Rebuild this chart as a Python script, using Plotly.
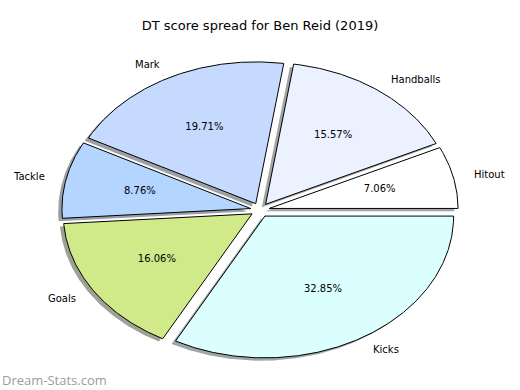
import numpy as np
import plotly.graph_objects as go

# ---- data ----
labels = ["Hitout", "Handballs", "Mark", "Tackle", "Goals", "Kicks"]
values = [29, 64, 81, 36, 66, 135]
colors = ["#ffffff", "#ebf1ff", "#c6d9ff", "#b3d5ff", "#d0ea8a", "#dbffff"]
explode = [0.05, 0.05, 0.05, 0.05, 0.05, 0.05]
title_text = "DT score spread for Ben Reid (2019)"
watermark = "Dream-Stats.com"

# ---- geometry helpers (pie drawn on unit radius, start at 0 deg, counterclockwise) ----
total = float(sum(values))
fracs = [v / total for v in values]
LABEL_DIST = 1.1
PCT_DIST = 0.6
SHADOW_OFF = (-0.02, -0.02)


def hex_to_rgb(h):
    h = h.lstrip("#")
    return tuple(int(h[i:i + 2], 16) for i in (0, 2, 4))


wedges = []
theta1 = 0.0
for lab, f, col, ex in zip(labels, fracs, colors, explode):
    theta2 = theta1 + 360.0 * f
    mid = np.deg2rad((theta1 + theta2) / 2.0)
    cx, cy = ex * np.cos(mid), ex * np.sin(mid)
    n = max(int(abs(theta2 - theta1) * 2), 8)
    t = np.deg2rad(np.linspace(theta1, theta2, n))
    xs = np.concatenate([[cx], cx + np.cos(t), [cx]])
    ys = np.concatenate([[cy], cy + np.sin(t), [cy]])
    wedges.append(dict(label=lab, frac=f, color=col, xs=xs, ys=ys, cx=cx, cy=cy, mid=mid))
    theta1 = theta2

fig = go.Figure()

# shadows (below all wedges)
for w in wedges:
    r, g, b = hex_to_rgb(w["color"])
    fig.add_trace(go.Scatter(
        x=w["xs"] + SHADOW_OFF[0], y=w["ys"] + SHADOW_OFF[1],
        mode="lines", fill="toself",
        fillcolor=f"rgba({int(r*0.3)},{int(g*0.3)},{int(b*0.3)},0.5)",
        line=dict(width=0, color="rgba(0,0,0,0)"),
        hoverinfo="skip", showlegend=False,
    ))

# wedges
for w in wedges:
    fig.add_trace(go.Scatter(
        x=w["xs"], y=w["ys"], mode="lines", fill="toself",
        fillcolor=w["color"], line=dict(color="black", width=1),
        name=w["label"], hoverinfo="skip", showlegend=False,
    ))

# percentage labels
fig.add_trace(go.Scatter(
    x=[w["cx"] + PCT_DIST * np.cos(w["mid"]) for w in wedges],
    y=[w["cy"] + PCT_DIST * np.sin(w["mid"]) for w in wedges],
    mode="text",
    text=["%.2f%%" % (100 * w["frac"]) for w in wedges],
    textposition="middle center",
    textfont=dict(family="DejaVu Sans", size=10, color="black"),
    hoverinfo="skip", showlegend=False,
))

# outer category labels
for w in wedges:
    lx = w["cx"] + LABEL_DIST * np.cos(w["mid"])
    ly = w["cy"] + LABEL_DIST * np.sin(w["mid"])
    fig.add_annotation(
        x=lx, y=ly, xref="x", yref="y", text=w["label"], showarrow=False,
        xanchor="left" if lx > 0 else "right", yanchor="middle",
        font=dict(family="DejaVu Sans", size=10, color="black"),
    )

fig.add_annotation(
    x=0, y=1 - 380 / 390, xref="paper", yref="paper", text=watermark,
    showarrow=False, xanchor="left", yanchor="middle",
    font=dict(family="Open Sans", size=13, color="#9c9c9c"),
)

fig.update_layout(
    width=520, height=390,
    margin=dict(l=0, r=0, t=0, b=0),
    paper_bgcolor="white", plot_bgcolor="white",
    title=dict(text=title_text, x=0.5, xanchor="center", y=1 - 25 / 390, yanchor="middle",
               font=dict(family="DejaVu Sans", size=13, color="black")),
    xaxis=dict(range=[-1.3771, 1.3771], visible=False, fixedrange=True),
    yaxis=dict(range=[-1.2694, 1.4810], visible=False, fixedrange=True),
    showlegend=False,
    hovermode=False,
)

fig.write_html(
    "out.html",
    config={"displayModeBar": False, "staticPlot": True},
    post_script="document.body.style.margin='0';document.body.style.overflow='hidden';",
)
